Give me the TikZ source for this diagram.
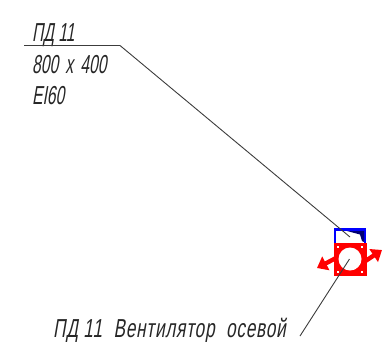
\documentclass[tikz,border=0pt]{standalone}
\usepackage{fontspec}
\newfontfamily\cadfont[FakeSlant=0.17,FakeStretch=0.6]{Liberation Sans}
\newfontfamily\cadwide[FakeSlant=0.17,FakeStretch=0.66,LetterSpace=3]{Liberation Sans}
\usetikzlibrary{arrows.meta}
\definecolor{leadergray}{RGB}{60,60,60}
\tikzset{
  cadtext/.style={font=\cadfont\fontsize{26}{26}\selectfont, text=black!85, anchor=base west, inner sep=0pt},
  cadlong/.style={font=\cadwide\fontsize{26}{26}\selectfont, text=black!85, anchor=base west, inner sep=0pt},
  leader/.style={draw=leadergray, line width=0.9pt},
  flow/.style={draw=red, line width=4.4pt, -{Triangle[length=10pt,width=15pt]}}
}
\begin{document}
\begin{tikzpicture}[x=1pt,y=-1pt]
\useasboundingbox (0,0) rectangle (382,341);
% texts
\node[cadtext] (tag) at (32,41.5) {ПД 11};
\node[cadtext] (size) at (32,73) {800\;x\;400};
\node[cadtext] (rating) at (32,104) {EI60};
\node[cadlong] (fan) at (53,337) {ПД 11\;\,Вентилятор\;\,осевой};
% damper (blue)
\draw[blue, line width=2.4pt] (335,229.5) rectangle (365,244);
\fill[blue!45!black] (347,231) -- (364,231) -- (364,242) -- (362,241) -- (360,234.5) -- cycle;
% fan body (red)
\fill[red] (334,243) rectangle (366.5,276);
\fill[white] (350,259) circle (11.5);
\foreach \cx/\cy in {338/247,362/247,338/272,362/272}
  \fill[white] (\cx-1,\cy-1) rectangle (\cx+1,\cy+1);
% flow arrows
\coordinate (fanL) at (336,258);
\coordinate (fanR) at (364,262);
\coordinate (tipL) at (317,268);
\coordinate (tipR) at (382,250);
\draw[flow] (fanL) -- (tipL);
\draw[flow] (fanR) -- (tipR);
% leaders
\coordinate (shelfA) at (24,45.5);
\coordinate (shelfB) at (120,45.5);
\coordinate (damperPt) at (350,237);
\coordinate (fanPt) at (349.5,259);
\coordinate (fanEnd) at (300,336);
\draw[leader] (shelfA) -- (shelfB) -- (damperPt);
\draw[leader] (fanPt) -- (fanEnd);
\end{tikzpicture}
\end{document}
